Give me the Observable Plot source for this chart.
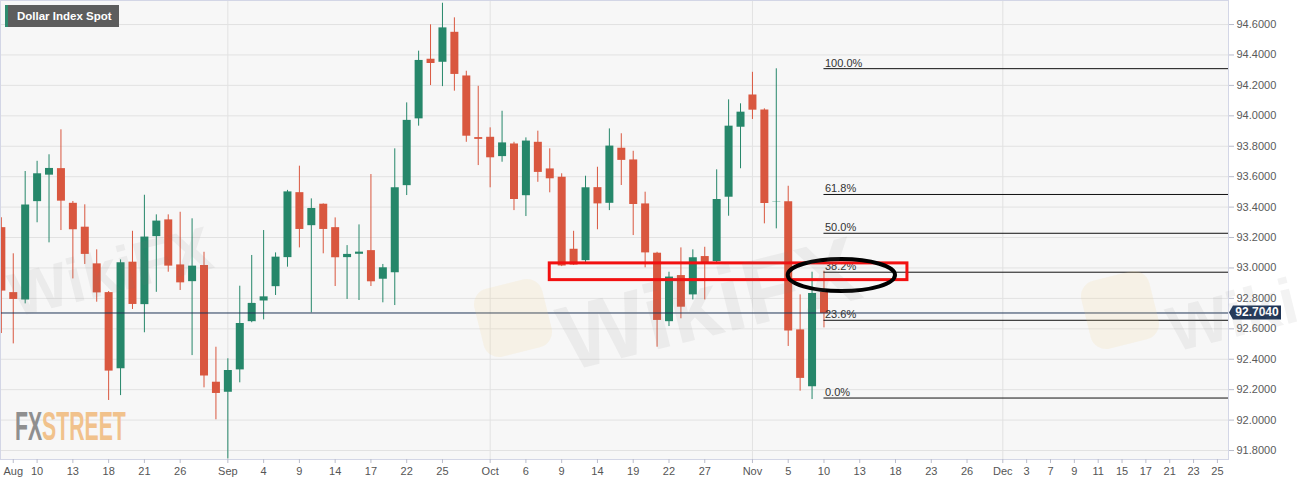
<!DOCTYPE html>
<html><head><meta charset="utf-8">
<script src="https://cdn.jsdelivr.net/npm/d3@7"></script>
<script src="https://cdn.jsdelivr.net/npm/@observablehq/plot@0.6"></script>
<style>
html,body{margin:0;padding:0;background:#fff;}
#wrap{position:relative;width:1305px;height:485px;overflow:hidden;font-family:"Liberation Sans",Arial,sans-serif;}
#title{position:absolute;left:5px;top:5px;height:22px;width:102px;background:#5d5d5d;border-left:3px solid #2e8b6e;color:#fff;font-weight:bold;font-size:11.5px;line-height:22px;padding-left:9px;white-space:nowrap;box-sizing:content-box;}
.wm{position:absolute;font-family:"Liberation Sans",Arial,sans-serif;font-weight:bold;color:rgba(120,120,120,0.09);transform:rotate(-14deg);transform-origin:left top;white-space:nowrap;pointer-events:none;}
.wmlogo{position:absolute;width:70px;height:70px;border-radius:16px;background:rgba(245,210,140,0.16);transform:rotate(-14deg);pointer-events:none;}
#fxs{position:absolute;left:15px;top:404px;font-family:"Liberation Sans Narrow","Liberation Sans",sans-serif;font-weight:bold;font-size:40px;line-height:44px;transform:scale(0.53,1);transform-origin:left top;white-space:nowrap;}
</style></head><body><div id="wrap"></div>
<script>
// ---- data ----
const dates = [
"2020-08-05","2020-08-06","2020-08-07","2020-08-10","2020-08-11","2020-08-12","2020-08-13","2020-08-14",
"2020-08-17","2020-08-18","2020-08-19","2020-08-20","2020-08-21","2020-08-24","2020-08-25","2020-08-26",
"2020-08-27","2020-08-28","2020-08-31","2020-09-01","2020-09-02","2020-09-03","2020-09-04","2020-09-07",
"2020-09-08","2020-09-09","2020-09-10","2020-09-11","2020-09-14","2020-09-15","2020-09-16","2020-09-17",
"2020-09-18","2020-09-21","2020-09-22","2020-09-23","2020-09-24","2020-09-25","2020-09-28","2020-09-29",
"2020-09-30","2020-10-01","2020-10-02","2020-10-05","2020-10-06","2020-10-07","2020-10-08","2020-10-09",
"2020-10-12","2020-10-13","2020-10-14","2020-10-15","2020-10-16","2020-10-19","2020-10-20","2020-10-21",
"2020-10-22","2020-10-23","2020-10-26","2020-10-27","2020-10-28","2020-10-29","2020-10-30","2020-11-02",
"2020-11-03","2020-11-04","2020-11-05","2020-11-06","2020-11-09","2020-11-10"];
const open = [
93.261,92.834,92.786,93.432,93.606,93.649,93.421,93.264,
93.023,92.834,92.334,93.034,92.755,93.202,93.312,93.016,
92.906,93.012,92.245,92.179,92.326,92.643,92.779,92.873,
93.064,93.491,93.274,93.415,93.261,93.064,93.086,93.110,
92.922,92.965,93.537,93.976,94.368,94.348,94.545,94.258,
93.853,93.855,93.728,93.811,93.471,93.822,93.647,93.592,
93.119,93.044,93.524,93.421,93.783,93.706,93.417,93.093,
92.643,92.946,92.819,93.071,93.038,93.461,93.921,94.133,
94.035,93.430,93.432,92.589,92.216,92.836];
const high = [
93.330,93.093,93.634,93.701,93.744,93.908,93.437,93.415,
93.119,92.845,93.053,93.241,93.478,93.349,93.349,93.366,
93.323,93.103,92.479,92.403,92.880,93.082,93.246,93.099,
93.510,93.669,93.454,93.421,93.329,93.147,93.283,93.614,
93.023,93.783,94.085,94.425,94.598,94.740,94.644,94.293,
94.194,93.921,94.030,93.826,93.855,93.899,93.783,93.619,
93.241,93.603,93.662,93.914,93.882,93.767,93.498,93.103,
92.972,93.132,93.119,93.136,93.645,94.105,94.079,94.286,
94.046,94.309,93.537,92.823,92.972,92.979];
const low = [
92.569,92.501,92.764,93.297,93.165,93.246,92.928,93.023,
92.775,92.129,92.161,92.727,92.574,92.840,92.972,92.852,
92.424,92.212,92.002,91.745,92.245,92.640,92.659,92.819,
93.005,93.132,92.705,93.093,92.878,92.793,92.786,92.878,
92.771,92.753,93.476,93.932,94.199,94.192,94.162,93.826,
93.673,93.527,93.695,93.377,93.338,93.563,93.494,93.009,
93.016,93.035,93.251,93.377,93.542,93.213,93.001,92.479,
92.615,92.666,92.790,92.790,93.027,93.340,93.652,93.976,
93.290,93.257,92.484,92.190,92.135,92.606];
const close = [
92.852,92.797,93.417,93.623,93.658,93.443,93.255,93.093,
92.840,92.326,93.038,92.764,93.207,93.312,93.016,92.906,
93.016,92.293,92.179,92.330,92.639,92.771,92.814,93.075,
93.504,93.257,93.395,93.257,93.071,93.093,93.108,92.913,
93.005,93.531,93.974,94.368,94.348,94.582,94.276,93.870,
93.849,93.728,93.826,93.454,93.838,93.632,93.590,93.016,
93.023,93.531,93.425,93.805,93.711,93.421,93.103,92.659,
92.944,92.746,93.071,93.038,93.454,93.936,94.028,94.041,
93.428,93.440,92.589,92.278,92.836,92.704];

const tickDates = ["2020-08-06","2020-08-10","2020-08-13","2020-08-18","2020-08-21","2020-08-26",
"2020-09-01","2020-09-04","2020-09-09","2020-09-14","2020-09-17","2020-09-22","2020-09-25",
"2020-10-01","2020-10-06","2020-10-09","2020-10-14","2020-10-19","2020-10-22","2020-10-27",
"2020-11-02","2020-11-05","2020-11-10","2020-11-13","2020-11-18","2020-11-23","2020-11-26",
"2020-12-01","2020-12-03","2020-12-07","2020-12-09","2020-12-11","2020-12-15","2020-12-17",
"2020-12-21","2020-12-23","2020-12-25"];
const tickLabels = ["Aug","10","13","18","21","26","Sep","4","9","14","17","22","25",
"Oct","6","9","14","19","22","27","Nov","5","10","13","18","23","26",
"Dec","3","7","9","11","15","17","21","23","25"];
const monthStarts = ["2020-09-01","2020-10-01","2020-11-02","2020-12-01"];
const yTicks = [91.8,92.0,92.2,92.4,92.6,92.8,93.0,93.2,93.4,93.6,93.8,94.0,94.2,94.4,94.6];

const fibLevels = [94.31, 93.483, 93.228, 92.972, 92.656, 92.145];
const fibLabels = ["100.0%","61.8%","50.0%","38.2%","23.6%","0.0%"];
const fibStart = "2020-11-10";
const lastPrice = 92.704;
const zoneDates = ["2020-10-08","2020-11-19"];
const zoneValues = [92.92, 93.03];
const ellipseDates = ["2020-11-05","2020-11-18"];
const ellipseValues = [92.845, 93.055];

// ---- trading-day index (weekdays counted from 1 Sep 2020) ----
const DAY = 86400000, BASE = Date.UTC(2020,8,1);
function tIdx(s){
  const t = Date.parse(s+"T00:00:00Z"); let n = 0;
  if (t >= BASE) { for (let d = BASE; d < t; d += DAY){ const w = new Date(d).getUTCDay(); if (w!==0 && w!==6) n++; } }
  else { for (let d = BASE - DAY; d >= t; d -= DAY){ const w = new Date(d).getUTCDay(); if (w!==0 && w!==6) n--; } }
  return n;
}

const candles = dates.map((d,i)=>({x:tIdx(d), o:open[i], h:high[i], l:low[i], c:close[i], up: close[i] >= open[i]}));
const ticks = tickDates.map(tIdx);
const labelOf = new Map(ticks.map((t,i)=>[t, tickLabels[i]]));
const fib = fibLevels.map((v,i)=>({v, label: fibLabels[i]}));
const GREEN = "#26876a", RED = "#d9573f", NAVY = "#1f3557";
const xDomain = [-19.07, 83.93];

const ns = "http://www.w3.org/2000/svg";
function el(name, attrs){ const e = document.createElementNS(ns, name); for (const k in attrs) e.setAttribute(k, attrs[k]); return e; }

const chart = Plot.plot({
  width: 1305, height: 485,
  marginLeft: 0, marginRight: 77, marginTop: 0, marginBottom: 26,
  style: {background: "transparent", color: "#5a5a5a", fontFamily: "Liberation Sans, Arial, sans-serif", fontSize: "11px"},
  x: {type: "linear", domain: xDomain},
  y: {domain: [91.741, 94.758]},
  marks: [
    Plot.frame({fill: "#f7f7f7", stroke: null}),
    Plot.gridY(yTicks, {stroke: "#e2e2e2", strokeOpacity: 1}),
    Plot.ruleX(monthStarts.map(tIdx), {stroke: "#e2e2e2"}),
    // candles
    Plot.ruleX(candles, {x: "x", y1: "l", y2: "h", stroke: d => d.up ? GREEN : RED, strokeWidth: 1}),
    Plot.ruleX(candles, {x: "x", y1: "o", y2: "c", stroke: d => d.up ? GREEN : RED, strokeWidth: 8, insetTop: -0.6, insetBottom: -0.6}),
    // last price line
    Plot.ruleY([lastPrice], {stroke: NAVY, strokeWidth: 1}),
    // fibonacci
    Plot.ruleY(fib, {y: "v", x1: tIdx(fibStart), x2: xDomain[1], stroke: "#111", strokeWidth: 1}),
    Plot.text(fib, {y: "v", x: tIdx(fibStart), text: "label", textAnchor: "start", lineAnchor: "bottom", dy: -2, dx: 1, fill: "#333", fontSize: 11}),
    // red zone
    Plot.rect([0], {x1: tIdx(zoneDates[0]), x2: tIdx(zoneDates[1]), y1: zoneValues[0], y2: zoneValues[1], fill: "none", stroke: "#f21010", strokeWidth: 3}),
    // black ellipse
    (index, scales) => {
      const x1 = scales.x(tIdx(ellipseDates[0])), x2 = scales.x(tIdx(ellipseDates[1]));
      const y1 = scales.y(ellipseValues[0]), y2 = scales.y(ellipseValues[1]);
      return el("ellipse", {cx: (x1+x2)/2, cy: (y1+y2)/2, rx: Math.abs(x2-x1)/2, ry: Math.abs(y1-y2)/2, fill: "none", stroke: "#000", "stroke-width": 4});
    },
    // frame borders
    Plot.frame({stroke: "#d3d6e6", strokeWidth: 1}),
    // axes
    Plot.axisY({anchor: "right", ticks: yTicks, tickFormat: d => d.toFixed(4), tickSize: 5, tickPadding: 3, label: null, stroke: "#b9bccb", fill: "#5a5a5a", fontSize: 11}),
    Plot.axisX({ticks: ticks, tickFormat: d => labelOf.get(d), tickSize: 4, tickPadding: 4, label: null, stroke: "#b9bccb", fill: "#555", fontSize: 11}),
    // last price tag
    (index, scales, values, dims) => {
      const y = scales.y(lastPrice), x0 = dims.width - dims.marginRight + 1;
      const g = el("g", {});
      g.appendChild(el("path", {d: `M${x0},${y} L${x0+4},${y-7} L${x0+52},${y-7} L${x0+52},${y+7} L${x0+4},${y+7} Z`, fill: NAVY}));
      const t = el("text", {x: x0+28, y: y+4, "text-anchor": "middle", fill: "#fff", "font-weight": "bold", "font-size": 12, "font-family": "Liberation Sans, Arial, sans-serif"});
      t.textContent = lastPrice.toFixed(4);
      g.appendChild(t);
      return g;
    }
  ]
});

const wrap = document.getElementById("wrap");
wrap.appendChild(chart);
wrap.insertAdjacentHTML("beforeend", `
<div class="wmlogo" style="left:478px;top:283px"></div>
<div class="wmlogo" style="left:1085px;top:275px"></div>
<div class="wm" style="left:2px;top:262px;font-size:62px">WikiFX</div>
<div class="wm" style="left:548px;top:290px;font-size:92px">WikiFX</div>
<div class="wm" style="left:1160px;top:295px;font-size:64px">Wiki</div>
<div id="fxs"><span style="color:#8f8f8f">FX</span><span style="color:#f1c28c">STREET</span></div>
<div id="title">Dollar Index Spot</div>`);
</script>
</body></html>
